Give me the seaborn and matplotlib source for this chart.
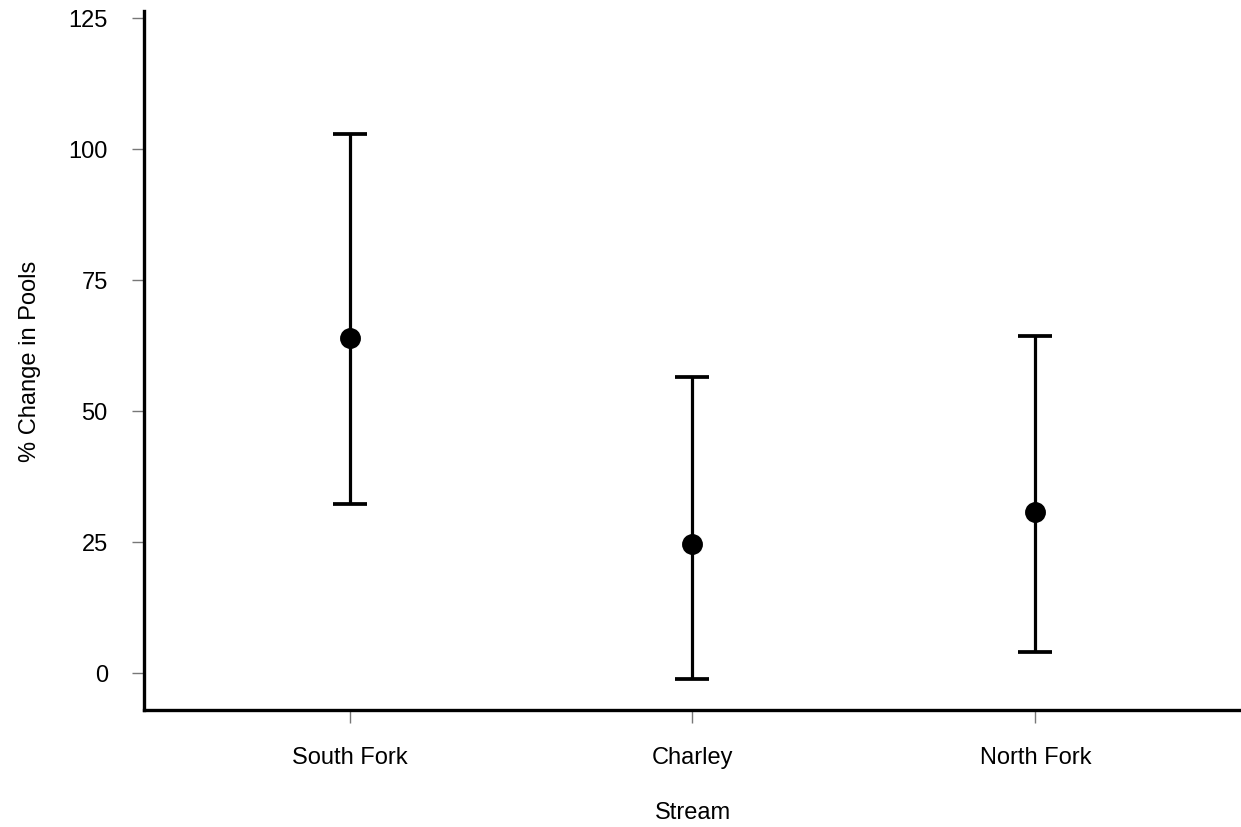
import numpy as np
import pandas as pd
import seaborn as sns
import matplotlib
matplotlib.use('Agg')
import matplotlib.pyplot as plt

# values
streams = ['South Fork', 'Charley', 'North Fork']
mean_change = [63.9, 24.6, 30.7]
upper_ci = [102.8, 56.5, 64.3]
lower_ci = [32.3, -1.1, 4.0]

df = pd.DataFrame({'Stream': streams, 'change': mean_change,
                   'upper': upper_ci, 'lower': lower_ci})

sns.set_theme(style='ticks')
plt.rcParams['font.family'] = ['Liberation Sans', 'DejaVu Sans']

fig = plt.figure(figsize=(12.41, 8.28), dpi=100)
ax = fig.add_axes([0.116, 0.1413, 0.884, 0.8442])

# error bars first, then the points on top
xpos = np.arange(len(df))
ax.errorbar(xpos, df['change'],
            yerr=[df['change'] - df['lower'], df['upper'] - df['change']],
            fmt='none', ecolor='black', elinewidth=2.3, capsize=12, capthick=2.7)
sns.pointplot(data=df, x='Stream', y='change', order=streams, errorbar=None,
              linestyle='none', color='black', markersize=13, ax=ax)

ax.set_xlim(-0.6, 2.6)
ax.set_ylim(-7.1, 126.3)
ax.set_yticks([0, 25, 50, 75, 100, 125])

for s in ['top', 'right']:
    ax.spines[s].set_visible(False)
for s in ['left', 'bottom']:
    ax.spines[s].set_linewidth(2.4)
    ax.spines[s].set_color('black')

ax.tick_params(axis='both', direction='out', length=9, width=1, color='#777777',
               labelsize=17, labelcolor='black')
ax.tick_params(axis='y', pad=17)
ax.tick_params(axis='x', pad=17)

ax.set_xlabel('Stream', fontsize=17, labelpad=24, color='black')
ax.set_ylabel('% Change in Pools', fontsize=17, labelpad=20, color='black')

fig.savefig('out.png', dpi=100)
